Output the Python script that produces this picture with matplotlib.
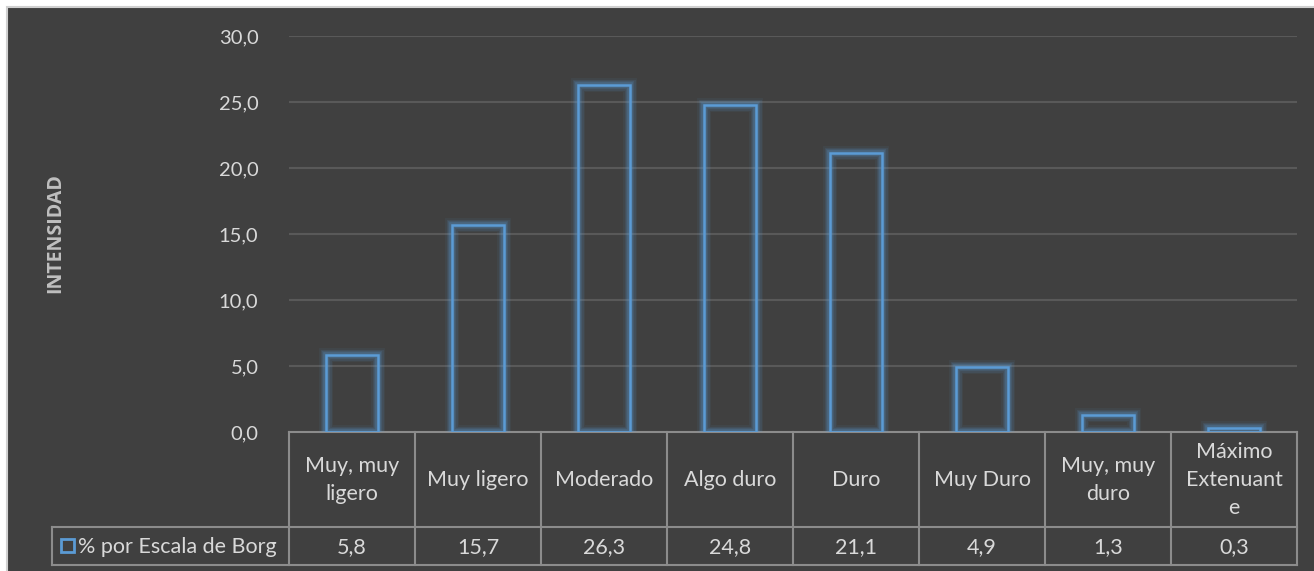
import matplotlib.pyplot as plt
from matplotlib.patches import Rectangle

# --- data ---
categories = ["Muy, muy\nligero", "Muy ligero", "Moderado", "Algo duro",
              "Duro", "Muy Duro", "Muy, muy\nduro", "Máximo\nExtenuant\ne"]
values = [5.8, 15.7, 26.3, 24.8, 21.1, 4.9, 1.3, 0.3]
value_labels = ["5,8", "15,7", "26,3", "24,8", "21,1", "4,9", "1,3", "0,3"]
yticks = [0, 5, 10, 15, 20, 25, 30]
series_name = "% por Escala de Borg"
ylabel = "INTENSIDAD"

BG = "#404040"
TXT = "#d9d9d9"
GRID = "#595959"
BORDER = "#8c8c8c"
BLUE = "#5B9BD5"

plt.rcParams["font.family"] = ["Lato", "DejaVu Sans"]

W, H = 1314, 571
fig = plt.figure(figsize=(W / 100, H / 100), dpi=100)
fig.patch.set_facecolor("white")

# full-figure overlay in pixel coordinates for frame and table
over = fig.add_axes([0, 0, 1, 1])
over.set_xlim(0, W)
over.set_ylim(H, 0)
over.axis("off")
over.add_patch(Rectangle((6.5, 6.5), W, H, facecolor=BG, edgecolor="#d0d0d0", lw=1.5, zorder=0))

# plot area: x 289..1297, y 36..432
x0, x1, ytop, ybot = 289, 1297, 36, 432
ax = fig.add_axes([x0 / W, 1 - ybot / H, (x1 - x0) / W, (ybot - ytop) / H])
ax.patch.set_alpha(0)
n = len(values)
xs = [i + 0.5 for i in range(n)]
ax.set_xlim(0, n)
ax.set_ylim(0, 30)
for s in ax.spines.values():
    s.set_visible(False)
ax.set_xticks([])
ax.set_yticks(yticks)
ax.set_yticklabels([f"{t:.1f}".replace(".", ",") for t in yticks], color=TXT, fontsize=14.5)
ax.tick_params(axis="y", length=0, pad=22)
for t in yticks[1:]:
    ax.axhline(t, color=GRID, lw=1.5, zorder=1)

# glow layers then outline
for lw, a in [(10, 0.07), (8, 0.1), (6, 0.15), (4, 0.22)]:
    ax.bar(xs, values, width=0.41, fill=False, edgecolor=BLUE, lw=lw, alpha=a, zorder=2)
ax.bar(xs, values, width=0.41, fill=False, edgecolor=BLUE, lw=1.8, zorder=3)

fig.text(55 / W, 1 - 233 / H, ylabel, rotation=90, ha="center", va="center",
         color="#bfbfbf", fontsize=14, fontweight="bold", family=["Open Sans", "DejaVu Sans"])

# table
cw = (x1 - x0) / n
r0, r1, r2 = 432, 527, 565
tl = 52
over.plot([x0, x1], [r0, r0], color=BORDER, lw=1.5)
over.plot([tl, x1], [r1, r1], color=BORDER, lw=1.5)
over.plot([tl, x1], [r2, r2], color=BORDER, lw=1.5)
over.plot([tl, tl], [r1, r2], color=BORDER, lw=1.5)
for i in range(n + 1):
    xv = x0 + i * cw
    over.plot([xv, xv], [r0, r2], color=BORDER, lw=1.5)
for i in range(n):
    cx = x0 + (i + 0.5) * cw
    over.text(cx, (r0 + r1) / 2 + 1, categories[i], ha="center", va="center",
              color=TXT, fontsize=15.5, linespacing=1.5)
    over.text(cx, (r1 + r2) / 2 + 1, value_labels[i], ha="center", va="center",
              color=TXT, fontsize=15.5)
over.add_patch(Rectangle((61, 539), 13, 13, facecolor="none", edgecolor=BLUE, lw=2))
over.text(78, (r1 + r2) / 2 + 1, series_name, ha="left", va="center", color=TXT, fontsize=15.5)

fig.savefig("out.png", dpi=100, facecolor=fig.get_facecolor())
